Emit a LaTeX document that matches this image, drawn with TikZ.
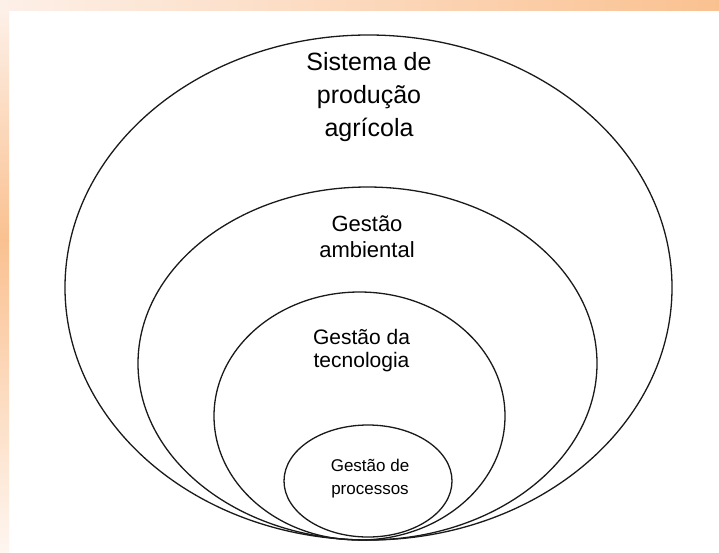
\documentclass[tikz,border=0pt]{standalone}
\usepackage{fontspec}
\setmainfont{Liberation Sans}
\usetikzlibrary{shapes.geometric}
\definecolor{bandlight}{HTML}{FDF0E8}
\definecolor{bandpale}{HTML}{FEF6F0}
\definecolor{bandorange}{HTML}{FAC190}
\definecolor{ringedge}{HTML}{1A1A1A}

\begin{document}
\begin{tikzpicture}[x=1pt, y=-1pt,
  ring/.style={ellipse, draw=ringedge, line width=1.3pt, inner sep=0pt},
  lab/.style={align=center, text=black, inner sep=0pt},
]
\useasboundingbox (0,0) rectangle (719,552);
% ---- page frame: orange bands at top and left
\fill[white] (0,0) rectangle (719,552);
\shade[left color=bandlight, right color=bandorange] (0,0) rectangle (719,10);
\shade[top color=bandlight, bottom color=bandorange] (0,10) rectangle (9,240);
\shade[top color=bandorange, bottom color=bandpale] (0,240) rectangle (9,552);
% ---- nested rings, all touching at the bottom
\node[ring, minimum width=607pt, minimum height=505pt] (sistema) at (368.5,287.5) {};
\node[ring, minimum width=459pt, minimum height=353pt] (ambiente) at (367.5,363.5) {};
\node[ring, minimum width=291pt, minimum height=248pt] (tecno) at (359.5,416) {};
\node[ring, minimum width=168pt, minimum height=112pt] (processo) at (368,481) {};
% ---- ring labels
\node[lab, font=\fontsize{25}{33}\selectfont] (sistema_lab) at (369,97) {Sistema de\\produção\\agrícola};
\node[lab, font=\fontsize{22}{26}\selectfont] (ambiente_lab) at (367,237) {Gestão\\ambiental};
\node[lab, font=\fontsize{21}{23}\selectfont] (tecno_lab) at (361.5,351) {Gestão da\\tecnologia};
\node[lab, font=\fontsize{17}{23}\selectfont] (processo_lab) at (370,479) {Gestão de\\processos};
\end{tikzpicture}
\end{document}
